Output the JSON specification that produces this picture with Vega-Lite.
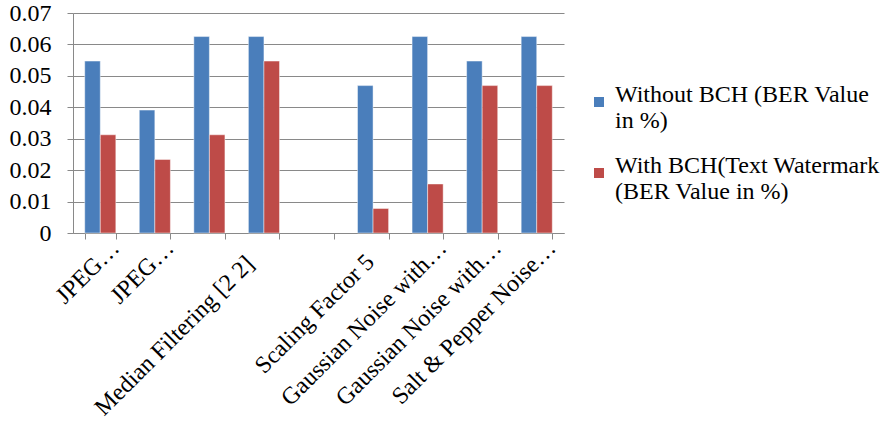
{
  "$schema": "https://vega.github.io/schema/vega-lite/v6.json",
  "width": 491,
  "height": 220,
  "autosize": {"type": "none"},
  "padding": {"left": 73, "top": 13, "right": 330, "bottom": 192},
  "background": "white",
  "config": {
    "view": {"stroke": null},
    "font": "'Liberation Serif', 'Times New Roman', serif"
  },
  "data": {
    "values": [
      {"attack": "JPEG…", "series": "Without BCH (BER Value in %)", "ber": 0.0547},
      {"attack": "JPEG…", "series": "With BCH(Text Watermark (BER Value in %)", "ber": 0.03125},
      {"attack": "JPEG…\u200b", "series": "Without BCH (BER Value in %)", "ber": 0.0391},
      {"attack": "JPEG…\u200b", "series": "With BCH(Text Watermark (BER Value in %)", "ber": 0.0234},
      {"attack": "\u200b", "series": "Without BCH (BER Value in %)", "ber": 0.0625},
      {"attack": "\u200b", "series": "With BCH(Text Watermark (BER Value in %)", "ber": 0.03125},
      {"attack": "Median Filtering [2 2]", "series": "Without BCH (BER Value in %)", "ber": 0.0625},
      {"attack": "Median Filtering [2 2]", "series": "With BCH(Text Watermark (BER Value in %)", "ber": 0.0547},
      {"attack": "Scaling Factor 5", "series": "Without BCH (BER Value in %)", "ber": 0.0469},
      {"attack": "Scaling Factor 5", "series": "With BCH(Text Watermark (BER Value in %)", "ber": 0.0078},
      {"attack": "Gaussian Noise with…", "series": "Without BCH (BER Value in %)", "ber": 0.0625},
      {"attack": "Gaussian Noise with…", "series": "With BCH(Text Watermark (BER Value in %)", "ber": 0.0156},
      {"attack": "Gaussian Noise with…\u200b", "series": "Without BCH (BER Value in %)", "ber": 0.0547},
      {"attack": "Gaussian Noise with…\u200b", "series": "With BCH(Text Watermark (BER Value in %)", "ber": 0.0469},
      {"attack": "Salt & Pepper Noise…", "series": "Without BCH (BER Value in %)", "ber": 0.0625},
      {"attack": "Salt & Pepper Noise…", "series": "With BCH(Text Watermark (BER Value in %)", "ber": 0.0469}
    ]
  },
  "mark": {"type": "bar", "stroke": "white", "strokeOpacity": 0.45, "strokeWidth": 1},
  "encoding": {
    "x": {
      "field": "attack",
      "type": "nominal",
      "sort": null,
      "scale": {
        "domain": ["JPEG…", "JPEG…\u200b", "\u200b", "Median Filtering [2 2]", "\u200b\u200b", "Scaling Factor 5", "Gaussian Noise with…", "Gaussian Noise with…\u200b", "Salt & Pepper Noise…"],
        "paddingInner": 0.43,
        "paddingOuter": 0.215
      },
      "axis": {
        "title": null,
        "labelAngle": -45,
        "labelAlign": "right",
        "labelBaseline": "middle",
        "labelFont": "Liberation Serif",
        "labelFontSize": 24,
        "labelColor": "#000000",
        "labelPadding": {
          "condition": [
            {"test": "indexof(datum.label, '…') >= 0", "value": 5},
            {"test": "datum.label == 'Median Filtering [2 2]'", "value": 21}
          ],
          "value": 19
        },
        "labelOffset": {
          "condition": [
            {"test": "indexof(datum.label, '…') >= 0", "value": 15},
            {"test": "datum.label == 'Median Filtering [2 2]'", "value": -14}
          ],
          "value": -3
        },
        "labelLimit": 400,
        "labelOverlap": false,
        "tickBand": "extent",
        "tickSize": 6,
        "tickColor": "#898989",
        "domainColor": "#898989",
        "grid": false
      }
    },
    "xOffset": {"field": "series", "sort": null},
    "y": {
      "field": "ber",
      "type": "quantitative",
      "scale": {"domain": [0, 0.07], "nice": false},
      "axis": {
        "title": null,
        "values": [0, 0.01, 0.02, 0.03, 0.04, 0.05, 0.06, 0.07],
        "format": ".2~f",
        "labelFont": "Liberation Serif",
        "labelFontSize": 24,
        "labelColor": "#000000",
        "labelPadding": 16,
        "tickSize": 6,
        "tickColor": "#898989",
        "domainColor": "#898989",
        "grid": true,
        "gridColor": "#898989",
        "gridOpacity": 1
      }
    },
    "color": {
      "field": "series",
      "type": "nominal",
      "sort": null,
      "scale": {"range": ["#4A7EBB", "#BE4B48"]},
      "legend": {
        "title": null,
        "orient": "none",
        "legendX": 514,
        "legendY": 77,
        "symbolType": "square",
        "symbolSize": 100,
        "symbolStrokeWidth": 0,
        "labelFont": "Liberation Serif",
        "labelFontSize": 24,
        "labelColor": "#000000",
        "labelOffset": 4,
        "labelLimit": 400,
        "labelBaseline": "alphabetic",
        "rowPadding": 21,
        "labelExpr": "datum.label == 'Without BCH (BER Value in %)' ? ['Without BCH (BER Value', 'in %)'] : ['With BCH(Text Watermark', '(BER Value in %)']",
        "encode": {"labels": {"update": {"lineHeight": {"value": 29}, "dy": {"value": 7}}}}
      }
    }
  }
}
